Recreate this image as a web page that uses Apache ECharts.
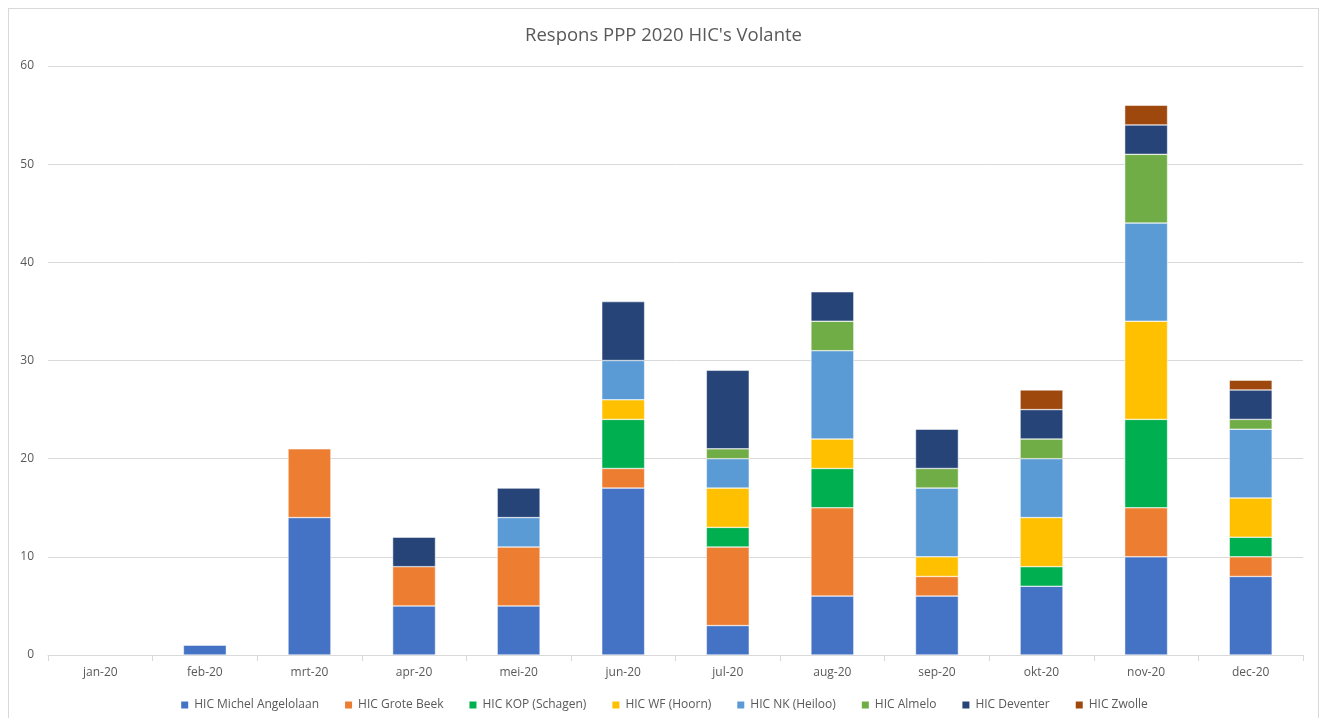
<!DOCTYPE html>
<html>
<head>
<meta charset="utf-8">
<title>Respons PPP 2020 HIC's Volante</title>
<script src="https://cdn.jsdelivr.net/npm/echarts@6/dist/echarts.min.js"></script>
<style>
  html, body { margin: 0; padding: 0; background: #fff; }
  #wrap { position: absolute; left: 8px; top: 8px; width: 1311px; height: 718px; border: 1px solid #d9d9d9; border-bottom: none; box-sizing: border-box; }
  #chart { position: absolute; left: 0; top: 0; width: 1327px; height: 718px; }
</style>
</head>
<body>
<div id="wrap"></div>
<div id="chart"></div>
<script>
const months = ['jan-20', 'feb-20', 'mrt-20', 'apr-20', 'mei-20', 'jun-20', 'jul-20', 'aug-20', 'sep-20', 'okt-20', 'nov-20', 'dec-20']

const michelAngelolaan = [0, 1, 14, 5, 5, 17, 3, 6, 6, 7, 10, 8]
const groteBeek        = [0, 0, 7, 4, 6, 2, 8, 9, 2, 0, 5, 2]
const kopSchagen       = [0, 0, 0, 0, 0, 5, 2, 4, 0, 2, 9, 2]
const wfHoorn          = [0, 0, 0, 0, 0, 2, 4, 3, 2, 5, 10, 4]
const nkHeiloo         = [0, 0, 0, 0, 3, 4, 3, 9, 7, 6, 10, 7]
const almelo           = [0, 0, 0, 0, 0, 0, 1, 3, 2, 2, 7, 1]
const deventer         = [0, 0, 0, 3, 3, 6, 8, 3, 4, 3, 3, 3]
const zwolle           = [0, 0, 0, 0, 0, 0, 0, 0, 0, 2, 2, 1]

const series = [
  { name: 'HIC Michel Angelolaan', data: michelAngelolaan, color: '#4472C4' },
  { name: 'HIC Grote Beek', data: groteBeek, color: '#ED7D31' },
  { name: 'HIC KOP (Schagen)', data: kopSchagen, color: '#00B050' },
  { name: 'HIC WF (Hoorn)', data: wfHoorn, color: '#FFC000' },
  { name: 'HIC NK (Heiloo)', data: nkHeiloo, color: '#5B9BD5' },
  { name: 'HIC Almelo', data: almelo, color: '#70AD47' },
  { name: 'HIC Deventer', data: deventer, color: '#264478' },
  { name: 'HIC Zwolle', data: zwolle, color: '#9E480E' }
]

const font = 'Open Sans, Noto Sans, sans-serif'

const option = {
  animation: false,
  title: {
    text: "Respons PPP 2020 HIC's Volante",
    left: 'center',
    top: 21,
    textStyle: { fontFamily: font, fontSize: 18.5, fontWeight: 'normal', color: '#595959' }
  },
  legend: {
    bottom: 2,
    left: 'center',
    itemWidth: 9,
    itemHeight: 9,
    itemGap: 24,
    icon: 'rect',
    textStyle: { fontFamily: font, fontSize: 12, color: '#595959' }
  },
  grid: {
    left: 48,
    right: 24,
    top: 66,
    bottom: 63,
    containLabel: false
  },
  xAxis: {
    type: 'category',
    data: months,
    axisLine: { lineStyle: { color: '#d9d9d9' } },
    axisTick: { show: true, length: 6, lineStyle: { color: '#d9d9d9' } },
    axisLabel: { fontFamily: font, fontSize: 12, color: '#595959', margin: 12 }
  },
  yAxis: {
    type: 'value',
    min: 0,
    max: 60,
    interval: 10,
    axisLine: { show: false },
    axisTick: { show: false },
    axisLabel: { fontFamily: font, fontSize: 12, color: '#595959', margin: 14 },
    splitLine: { lineStyle: { color: '#d9d9d9' } }
  },
  series: series.map(s => ({
    name: s.name,
    type: 'bar',
    stack: 'total',
    barWidth: '41%',
    data: s.data.map(v => v === 0 ? null : v),
    itemStyle: { color: s.color, borderColor: '#fff', borderWidth: 0.5 }
  }))
}

const chart = echarts.init(document.getElementById('chart'), null, { renderer: 'canvas' })
chart.setOption(option)
window.addEventListener('resize', () => chart.resize())
</script>
</body>
</html>
